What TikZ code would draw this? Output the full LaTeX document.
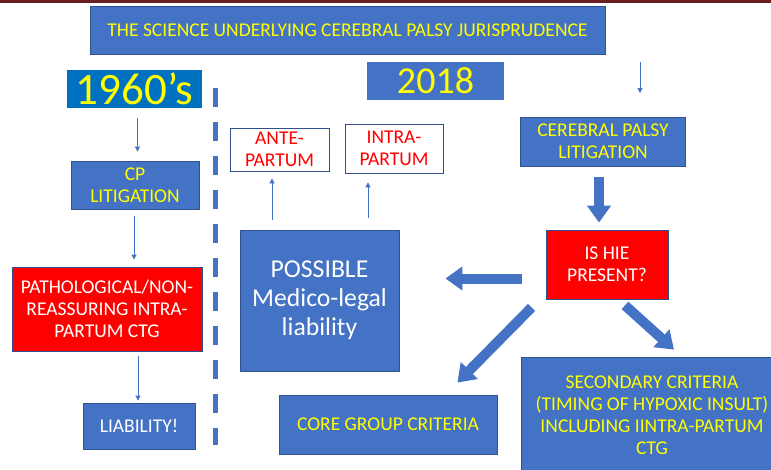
\documentclass[tikz,border=0pt]{standalone}
\usepackage{fontspec}
\setmainfont{Carlito}
\usetikzlibrary{arrows.meta}
\definecolor{boxblue}{HTML}{4472C4}
\definecolor{edgeblue}{HTML}{2F528F}
\definecolor{yearblue}{HTML}{0070C0}
\definecolor{hiered}{HTML}{FF0000}
\definecolor{labelyellow}{HTML}{FFFF00}
\definecolor{topbar}{HTML}{6B1F1F}
\tikzset{
  box/.style={draw=edgeblue, line width=0.8pt, align=center, inner sep=2pt,
    font=\fontsize{19.5}{22}\selectfont},
  bluebox/.style={box, fill=boxblue, text=labelyellow},
  yearbox/.style={box, fill=#1, text=labelyellow, draw=none},
  redbox/.style={box, fill=hiered, text=white},
  whitebox/.style={box, fill=white, text=hiered},
  thinarrow/.style={draw=boxblue, line width=0.8pt, -{Triangle[length=5pt,width=5pt]}},
  bigarrow/.style={draw=boxblue, line width=10pt, -{Triangle[length=17pt,width=23pt]}},
  divider/.style={draw=boxblue, line width=5pt, dash pattern=on 19pt off 15pt},
}
\begin{document}
\begin{tikzpicture}[x=1pt, y=-1pt]
  \useasboundingbox (0,0) rectangle (771,469);
  \clip (0,0) rectangle (771,469);
  \fill[topbar] (0,0) rectangle (771,2.5);
  % heading and years
  \node[bluebox, minimum width=515pt, minimum height=48pt] (title) at (347.5,30)
    {THE SCIENCE UNDERLYING CEREBRAL PALSY JURISPRUDENCE};
  \node[yearbox=yearblue, minimum width=135pt, minimum height=38pt,
    font=\fontsize{45}{45}\selectfont] (y1960) at (134.5,89) {1960’s};
  \node[yearbox=boxblue, minimum width=137pt, minimum height=38pt,
    font=\fontsize{38}{38}\selectfont] (y2018) at (435.5,81) {2018};
  \draw[divider] (215,88) -- (215,445);
  % 1960's column
  \node[bluebox, minimum width=128pt, minimum height=48pt] (cp) at (135,185) {CP\\LITIGATION};
  \node[redbox, minimum width=190pt, minimum height=84pt] (patho) at (107,309)
    {PATHOLOGICAL/NON-\\REASSURING INTRA-\\PARTUM CTG};
  \node[bluebox, text=white, minimum width=112pt, minimum height=46pt] (liab) at (139,426) {LIABILITY!};
  \draw[thinarrow, shorten <=10pt, shorten >=9pt] ([xshift=3pt]y1960.south) -- ([xshift=3pt]y1960.south |- cp.north);
  \draw[thinarrow, shorten <=7pt, shorten >=7pt] ([xshift=-1pt]cp.south) -- ([xshift=-1pt]cp.south |- patho.north);
  \draw[thinarrow, shorten <=5pt, shorten >=2pt] ([xshift=31pt]patho.south) -- ([xshift=31pt]patho.south |- liab.north);
  % 2018 column
  \node[whitebox, minimum width=99pt, minimum height=43pt] (ante) at (279.5,149.5) {ANTE-\\PARTUM};
  \node[whitebox, minimum width=98pt, minimum height=49pt] (intra) at (394,148.5) {INTRA-\\PARTUM};
  \node[bluebox, text=white, minimum width=159pt, minimum height=141pt,
    font=\fontsize{25.7}{29}\selectfont] (possible) at (319.5,300.5) {POSSIBLE\\Medico-legal\\liability};
  \draw[thinarrow, shorten <=10pt, shorten >=7pt] ([xshift=-47.5pt]possible.north) -- ([xshift=-7.5pt]ante.south);
  \draw[thinarrow, shorten <=12pt, shorten >=9pt] ([xshift=48.5pt]possible.north) -- ([xshift=-26pt]intra.south);
  \node[bluebox, minimum width=165pt, minimum height=49pt] (cpl) at (603,141.5) {CEREBRAL PALSY\\LITIGATION};
  \node[redbox, minimum width=122pt, minimum height=69pt] (hie) at (607,264.5) {IS HIE\\PRESENT?};
  \node[bluebox, minimum width=218pt, minimum height=59pt] (core) at (388,424.5) {CORE GROUP CRITERIA};
  \node[bluebox, minimum width=262pt, minimum height=116pt] (second) at (652,415)
    {SECONDARY CRITERIA\\(TIMING OF HYPOXIC INSULT)\\INCLUDING IINTRA-PARTUM\\CTG};
  \coordinate (drop) at (640,62);
  \draw[thinarrow] (drop) -- ++(0,31);
  \draw[bigarrow, shorten <=11pt, shorten >=7pt] ([xshift=-4pt]cpl.south) -- ([xshift=-8pt]hie.north);
  \draw[bigarrow] ([xshift=-24pt,yshift=-14pt]hie.west) -- ([xshift=46pt,yshift=22pt]possible.east);
  \draw[bigarrow] ([xshift=-14pt,yshift=-8pt]hie.south west) -- ([xshift=-40pt,yshift=12pt]core.north east);
  \draw[bigarrow] ([xshift=18pt,yshift=-6pt]hie.south) -- ([xshift=22pt,yshift=7pt]second.north);
\end{tikzpicture}
\end{document}
